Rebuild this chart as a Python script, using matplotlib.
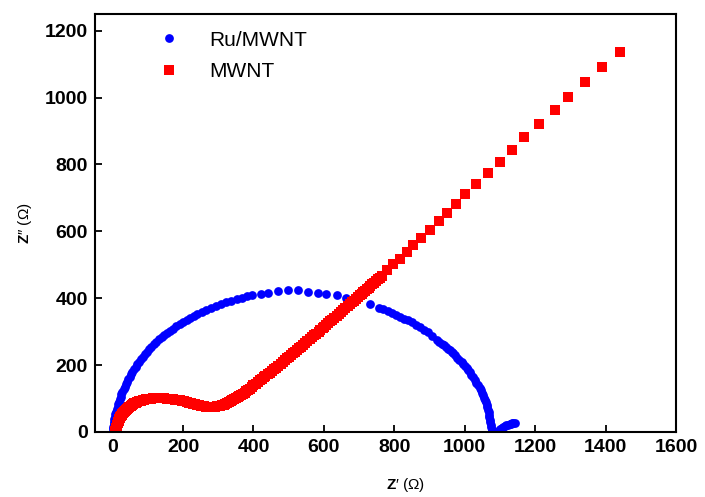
import matplotlib
matplotlib.use("Agg")
import matplotlib.pyplot as plt

plt.rcParams['font.family'] = ['Liberation Sans', 'DejaVu Sans']
plt.rcParams['mathtext.fontset'] = 'custom'
plt.rcParams['mathtext.rm'] = 'Liberation Sans'
plt.rcParams['mathtext.bf'] = 'Liberation Sans:bold'

# Ru/MWNT (blue circles)
ru_x = [0, 1, 2, 3, 4, 5, 7, 8, 10, 12, 14, 16, 18, 20, 23, 25, 28, 31, 34, 37, 41,
        44, 48, 52, 56, 60, 65, 70, 75, 80, 86, 91, 97, 103, 110, 117, 124, 131,
        139, 147, 155, 163, 172, 181, 190, 200, 210, 220, 230, 241, 253, 266, 280,
        294, 309, 323, 337, 352, 366, 381, 395, 420, 442, 470, 498, 527, 555, 584,
        607, 636, 664, 692, 730, 756, 768, 781, 794, 806, 817, 827, 838, 849, 861,
        872, 885, 896, 908, 920, 927, 934, 941, 948, 953, 958, 963, 967, 973, 979,
        985, 991, 996, 1001, 1006, 1010, 1015, 1019, 1024, 1028, 1033, 1037, 1042,
        1047, 1050, 1052, 1055, 1057, 1060, 1062, 1064, 1066, 1068, 1069, 1070,
        1071, 1073, 1074, 1075, 1076, 1078, 1080, 1085, 1090, 1095, 1100, 1105,
        1109, 1114, 1118, 1123, 1128, 1131, 1135, 1138, 1142]
ru_y = [0, 8, 15, 23, 30, 38, 45, 53, 60, 68, 75, 83, 90, 98, 105, 113, 120, 128,
        135, 143, 150, 158, 165, 173, 180, 188, 195, 203, 210, 218, 225, 233, 240,
        248, 255, 263, 270, 277, 283, 290, 296, 303, 309, 316, 322, 329, 335, 341,
        347, 353, 359, 366, 372, 378, 384, 389, 393, 398, 402, 406, 409, 414, 417,
        422, 424, 424, 420, 417, 414, 409, 401, 396, 382, 371, 367, 362, 357, 351,
        345, 339, 334, 329, 321, 313, 306, 299, 288, 275, 270, 264, 259, 253, 249,
        244, 240, 235, 229, 222, 216, 210, 204, 198, 192, 185, 178, 170, 163, 155,
        148, 140, 133, 125, 118, 110, 103, 96, 89, 81, 74, 66, 59, 51, 44, 36, 29,
        21, 14, 6, 2, 0, 0, 1, 4, 8, 12, 16, 18, 20, 22, 24, 25, 26, 27, 28]

# MWNT (red squares)
mw_x = [7, 8, 9, 10, 11, 12, 13, 14, 15, 17, 18, 20, 22, 24, 26, 28, 30, 33, 35, 38,
        40, 44, 47, 51, 55, 58, 62, 66, 70, 75, 80, 85, 90, 95, 100, 105, 110, 116,
        122, 128, 134, 140, 147, 153, 160, 166, 172, 178, 185, 191, 197, 203, 210,
        216, 222, 228, 235, 240, 245, 250, 255, 260, 265, 270, 276, 280, 285, 290,
        295, 300, 305, 310, 315, 320, 325, 330, 335, 340, 345, 350, 355, 360, 365,
        370, 375, 380, 385, 390, 395, 400, 406, 412, 418, 423, 429, 434, 440, 446,
        452, 458, 465, 471, 477, 483, 490, 495, 501, 507, 513, 518, 524, 530, 535,
        541, 547, 553, 560, 566, 572, 578, 585, 590, 596, 601, 607, 612, 618, 624,
        630, 636, 642, 648, 655, 661, 667, 673, 680, 685, 691, 696, 702, 707, 712,
        717, 722, 727, 732, 737, 742, 747, 753, 758, 764, 779, 796, 815, 835, 854,
        877, 901, 926, 950, 974, 1001, 1033, 1065, 1101, 1133, 1169, 1212, 1255,
        1292, 1341, 1391, 1442]
mw_y = [0, 4, 8, 11, 15, 18, 22, 26, 30, 34, 38, 41, 45, 48, 52, 55, 58, 61, 64, 67,
        70, 73, 76, 79, 82, 84, 86, 88, 90, 92, 94, 96, 97, 98, 99, 100, 100, 101,
        101, 101, 101, 101, 101, 100, 100, 99, 98, 97, 96, 95, 93, 92, 90, 88, 87,
        85, 83, 82, 80, 79, 78, 77, 76, 75, 75, 75, 76, 76, 77, 78, 79, 80, 82, 84,
        87, 89, 92, 95, 98, 101, 105, 108, 111, 115, 118, 122, 126, 130, 135, 140,
        145, 150, 155, 159, 163, 168, 172, 177, 182, 187, 192, 197, 203, 209, 215,
        220, 225, 230, 235, 240, 245, 250, 255, 260, 266, 272, 278, 283, 289, 294,
        300, 305, 310, 315, 320, 326, 331, 336, 342, 348, 353, 359, 365, 370, 376,
        382, 388, 393, 398, 404, 409, 414, 418, 423, 428, 432, 437, 442, 447, 452,
        457, 462, 467, 484, 501, 517, 538, 559, 581, 605, 630, 655, 681, 711, 741,
        774, 806, 844, 881, 922, 963, 1003, 1048, 1093, 1137]

x_ticks = [0, 200, 400, 600, 800, 1000, 1200, 1400, 1600]
y_ticks = [0, 200, 400, 600, 800, 1000, 1200]

fig = plt.figure(figsize=(7.05, 4.97), dpi=100)
ax = fig.add_axes([0.1348, 0.1308, 0.8241, 0.8410])

ax.plot(ru_x, ru_y, 'o', color='#0000ff', markersize=6.3, markeredgewidth=0, label='Ru/MWNT')
ax.plot(mw_x, mw_y, 's', color='#ff0000', markersize=6.6, markeredgewidth=0, label='MWNT')

ax.set_xlim(-50, 1600)
ax.set_ylim(0, 1250)
ax.set_xticks(x_ticks)
ax.set_yticks(y_ticks)
for lbl in ax.get_xticklabels() + ax.get_yticklabels():
    lbl.set_fontweight('bold')
    lbl.set_fontsize(14)
ax.tick_params(direction='in', length=5, width=1.3, pad=5)
for sp in ax.spines.values():
    sp.set_linewidth(1.5)

ax.set_xlabel(r'$\mathbf{Z}$' + '\u2032 (\u03a9)', fontsize=11)
ax.set_ylabel(r'$\mathbf{Z}$' + '\u2033 (\u03a9)', fontsize=11)
ax.xaxis.set_label_coords(0.535, -0.105)
ax.yaxis.set_label_coords(-0.105, 0.5)

ax.legend(loc='upper left', bbox_to_anchor=(0.06, 1.005), frameon=False, fontsize=15,
          handletextpad=0.9, labelspacing=0.6, markerscale=1.0)

fig.savefig('out.png', dpi=100)
